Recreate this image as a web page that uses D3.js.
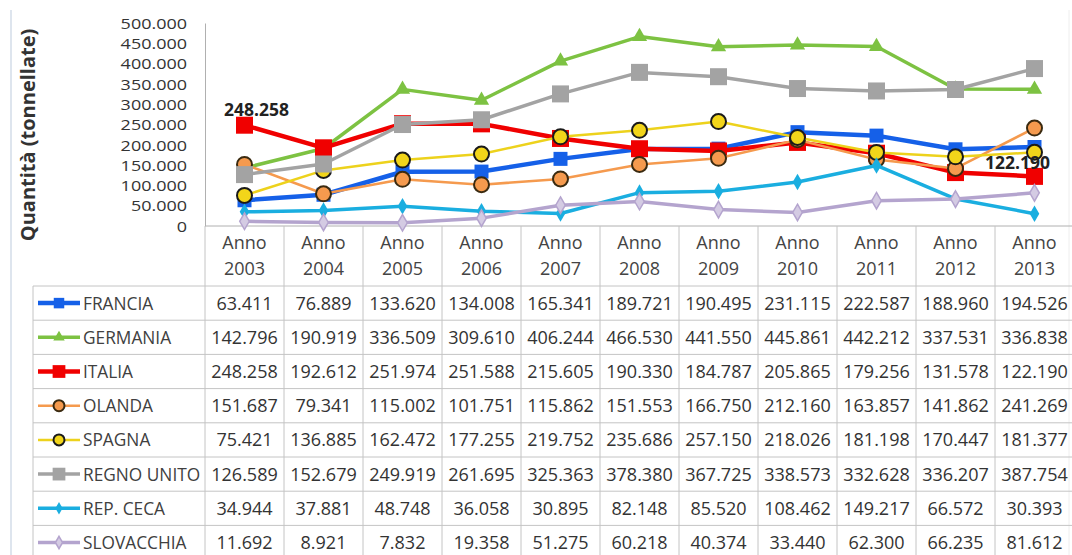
<!DOCTYPE html>
<html><head><meta charset="utf-8">
<script src="https://cdn.jsdelivr.net/npm/d3@7"></script>
<style>
html,body{margin:0;padding:0;background:#fff;}
svg{display:block;}
text{font-family:"Open Sans",sans-serif;}
</style></head>
<body>
<svg id="c" width="1072" height="555"></svg>
<script>
const years = ["2003","2004","2005","2006","2007","2008","2009","2010","2011","2012","2013"];
const yTicks = [0,50000,100000,150000,200000,250000,300000,350000,400000,450000,500000];
const seriesNames = ["FRANCIA","GERMANIA","ITALIA","OLANDA","SPAGNA","REGNO UNITO","REP. CECA","SLOVACCHIA"];
const francia    = [63411,76889,133620,134008,165341,189721,190495,231115,222587,188960,194526];
const germania   = [142796,190919,336509,309610,406244,466530,441550,445861,442212,337531,336838];
const italia     = [248258,192612,251974,251588,215605,190330,184787,205865,179256,131578,122190];
const olanda     = [151687,79341,115002,101751,115862,151553,166750,212160,163857,141862,241269];
const spagna     = [75421,136885,162472,177255,219752,235686,257150,218026,181198,170447,181377];
const regnoUnito = [126589,152679,249919,261695,325363,378380,367725,338573,332628,336207,387754];
const repCeca    = [34944,37881,48748,36058,30895,82148,85520,108462,149217,66572,30393];
const slovacchia = [11692,8921,7832,19358,51275,60218,40374,33440,62300,66235,81612];
const seriesValues = [francia,germania,italia,olanda,spagna,regnoUnito,repCeca,slovacchia];

const styles = [
  {color:"#1560E8", shape:"square", size:14, width:4.5, fill:"#1560E8", stroke:"none"},
  {color:"#7DC242", shape:"triangle", size:13, width:3.5, fill:"#7DC242", stroke:"none"},
  {color:"#F00000", shape:"square", size:17, width:4.5, fill:"#F00000", stroke:"none"},
  {color:"#F59A4E", shape:"circle", size:7.5, width:2.5, fill:"#F59A4E", stroke:"#3a2a10"},
  {color:"#EDD21C", shape:"circle", size:7.5, width:2.5, fill:"#F2D51A", stroke:"#1a1a1a"},
  {color:"#A3A3A3", shape:"square", size:17, width:3.5, fill:"#A3A3A3", stroke:"none"},
  {color:"#1AAEE0", shape:"diamond", size:12, width:3.5, fill:"#1AAEE0", stroke:"none"},
  {color:"#B4A4CE", shape:"diamond", size:12, width:3.5, fill:"#D4CBE3", stroke:"#B4A4CE"}
];

const fmt = v => d3.format(",")(v).replace(/,/g,".");
const FS = 18;

const svg = d3.select("#c");
const colW = 79, x0 = 205;
const x = d3.scaleBand().domain(years).range([x0, x0 + colW*years.length]);
const y = d3.scaleLinear().domain([0,500000]).range([226,23]);
const cx = d3.scalePoint().domain(years).range([x0+colW/2, x0+colW*years.length-colW/2]);

// chart border
svg.append("line").attr("x1",11).attr("x2",11).attr("y1",10).attr("y2",555).attr("stroke","#d3dde9").attr("stroke-width",1.5);
svg.append("line").attr("x1",1069).attr("x2",1069).attr("y1",10).attr("y2",555).attr("stroke","#eeeeee").attr("stroke-width",1);

// Y axis
const yAxis = d3.axisLeft(y).tickValues(yTicks).tickSize(0).tickPadding(18).tickFormat(fmt);
const ga = svg.append("g").attr("transform",`translate(${x0},0)`).call(yAxis);
ga.select(".domain").attr("stroke","#b0b0b0");
ga.selectAll("text").attr("font-size",14.5).attr("fill","#333").attr("font-family","Open Sans").attr("dy","0.36em")
  .each(function(){
    const w = this.getComputedTextLength();
    d3.select(this).attr("textLength", w*1.24).attr("lengthAdjust","spacingAndGlyphs");
  });

svg.append("text").attr("transform","translate(35,135) rotate(-90)").attr("text-anchor","middle")
  .attr("font-size",20).attr("font-weight","bold").attr("fill","#333").text("Quantità (tonnellate)");

// table
const tableTop = 226, headH = 60, rowH = 34.2;
const g = svg.append("g");
const gridC = "#c4c4c4";
g.append("line").attr("x1",x0).attr("x2",1072).attr("y1",tableTop).attr("y2",tableTop).attr("stroke","#b0b0b0");
years.forEach((yr,i)=>{
  g.append("line").attr("x1",x(yr)).attr("x2",x(yr)).attr("y1",tableTop).attr("y2",555).attr("stroke",gridC);
});
g.append("line").attr("x1",33).attr("x2",33).attr("y1",tableTop+headH).attr("y2",555).attr("stroke",gridC);
for(let r=0;r<=seriesNames.length;r++){
  const yy = tableTop+headH+r*rowH;
  g.append("line").attr("x1",33).attr("x2",1072).attr("y1",yy).attr("y2",yy).attr("stroke",gridC);
}
years.forEach(yr=>{
  const t = g.append("text").attr("text-anchor","middle").attr("font-size",FS).attr("fill","#444");
  t.append("tspan").attr("x",cx(yr)).attr("y",249).text("Anno");
  t.append("tspan").attr("x",cx(yr)).attr("y",275).text(yr);
});

function marker(sel, s, px, py){
  if(s.shape==="circle"){
    sel.append("circle").attr("cx",px).attr("cy",py).attr("r",s.size).attr("fill",s.fill).attr("stroke",s.stroke).attr("stroke-width",2);
  } else {
    const type = s.shape==="square"?d3.symbolSquare:(s.shape==="triangle"?d3.symbolTriangle:d3.symbolDiamond);
    const area = s.shape==="square"? s.size*s.size : (s.shape==="triangle"? s.size*s.size*0.6 : s.size*s.size*0.55);
    sel.append("path").attr("d",d3.symbol().type(type).size(area)()).attr("transform",`translate(${px},${py})`)
      .attr("fill",s.fill).attr("stroke",s.stroke==="none"?null:s.stroke).attr("stroke-width",1.5);
  }
}

seriesNames.forEach((name,i)=>{
  const s = styles[i];
  const rc = tableTop+headH+i*rowH+rowH/2;
  g.append("line").attr("x1",38).attr("x2",80).attr("y1",rc).attr("y2",rc).attr("stroke",s.color).attr("stroke-width",s.width);
  const ms = Object.assign({},s,{size: s.shape==="circle"?5.5:s.size*0.75});
  marker(g, ms, 59, rc);
  g.append("text").attr("x",83).attr("y",rc+6.5).attr("font-size",17.3).attr("fill","#404040").text(name);
  seriesValues[i].forEach((v,j)=>{
    g.append("text").attr("x",cx(years[j])).attr("y",rc+6.5).attr("text-anchor","middle")
      .attr("font-size",FS).attr("fill","#333").text(fmt(v));
  });
});

const line = d3.line().x((d,j)=>cx(years[j])).y(d=>y(d));
const order = [0,1,2,3,4,5,6,7];
order.forEach(i=>{
  const s = styles[i];
  const gs = svg.append("g");
  gs.append("path").attr("d",line(seriesValues[i])).attr("fill","none").attr("stroke",s.color).attr("stroke-width",s.width).attr("stroke-linejoin","round");
  seriesValues[i].forEach((v,j)=>marker(gs,s,cx(years[j]),y(v)));
});

svg.append("text").attr("x",cx("2003")+12).attr("y",y(italia[0])-9).attr("text-anchor","middle")
  .attr("font-size",17.5).attr("font-weight","bold").attr("fill","#222").text(fmt(italia[0]));
svg.append("text").attr("x",cx("2013")-17).attr("y",y(italia[10])-7).attr("text-anchor","middle")
  .attr("font-size",17.5).attr("font-weight","bold").attr("fill","#222").text(fmt(italia[10]));
</script>
</body></html>
